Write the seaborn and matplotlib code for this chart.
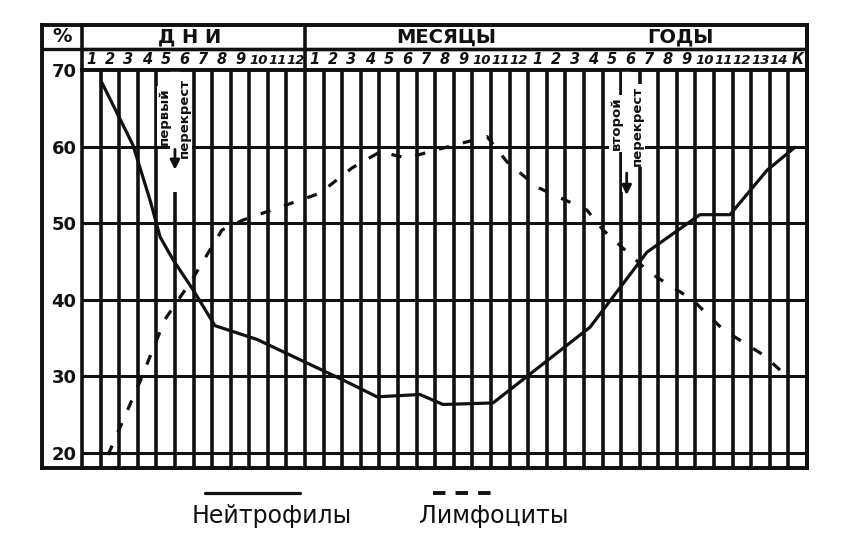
import matplotlib
matplotlib.use("Agg")
import matplotlib.pyplot as plt
from matplotlib.lines import Line2D
import numpy as np
import pandas as pd
import seaborn as sns

# ---- data -------------------------------------------------------------
# x is measured in columns of the time scale (days | months | years)
neut_x = [1.08, 2.74, 3.66, 4.20, 4.90, 5.97, 7.15, 9.41, 14.04, 15.87,
          18.18, 19.42, 22.11, 27.33, 30.39, 33.24, 34.86, 36.85, 38.35]
neut_y = [68.3, 60.2, 53.0, 48.2, 45.2, 41.3, 36.6, 34.8, 29.5, 27.3,
          27.6, 26.3, 26.5, 36.4, 46.2, 51.1, 51.1, 56.9, 59.9]

lymph_x = [1.40, 3.12, 4.46, 5.92, 7.53, 8.66, 11.03, 12.80, 14.52, 16.03,
           17.48, 19.42, 21.79, 22.86, 24.48, 27.16, 28.03, 30.55, 32.83,
           34.48, 36.63, 37.55]
lymph_y = [19.7, 29.3, 37.4, 42.6, 49.1, 50.4, 52.4, 53.9, 57.2, 59.3,
           58.5, 59.8, 61.3, 58.0, 54.7, 51.7, 49.1, 43.5, 40.0,
           36.1, 32.8, 30.8]

day_labels = [str(i) for i in range(1, 13)]
month_labels = [str(i) for i in range(1, 13)]
year_labels = [str(i) for i in range(1, 15)] + ["К"]
section_titles = ["Д Н И", "МЕСЯЦЫ", "ГОДЫ"]
y_ticks = [20, 30, 40, 50, 60, 70]
series_names = ["Нейтрофилы", "Лимфоциты"]

# ---- style ------------------------------------------------------------
sns.set_style("white")
plt.rcParams["font.family"] = ["DejaVu Sans"]

W, H = 864, 544
fig = plt.figure(figsize=(W / 100, H / 100), dpi=100)
fig.patch.set_facecolor("white")


def box(x0, y0, x1, y1):
    """figure rectangle from pixel edges (top-left origin)"""
    return [x0 / W, (H - y1) / H, (x1 - x0) / W, (y1 - y0) / H]


INK = "#111111"
LW_V = 2.6
LW_H = 2.2

n_cols = len(day_labels) + len(month_labels) + len(year_labels)

# outer frame
frame = fig.add_axes(box(42, 25, 807, 468))
frame.set_xlim(0, 1)
frame.set_ylim(0, 1)
frame.set_xticks([])
frame.set_yticks([])
for s in frame.spines.values():
    s.set_linewidth(2.8)
    s.set_color(INK)
frame.axhline((468 - 49) / (468 - 25), xmin=0, xmax=1, color=INK, lw=2.4)

# header (section titles + column numbers)
hdr = fig.add_axes(box(82, 25, 807, 70))
hdr.set_facecolor("none")
hdr.set_xlim(0, n_cols)
hdr.set_ylim(0, 45)
hdr.set_xticks([])
hdr.set_yticks([])
for s in hdr.spines.values():
    s.set_linewidth(2.6)
    s.set_color(INK)
hdr.axhline(21, color=INK, lw=2.4)
hdr.axvline(len(day_labels), color=INK, lw=2.6)

col_labels = day_labels + month_labels + year_labels
for i, lab in enumerate(col_labels):
    hdr.text(i + 0.5, 10, lab, ha="center", va="center",
             fontsize=9.5 if len(lab) > 1 else 10.5, fontweight="bold",
             fontstyle="italic", color=INK)
for xc, t in zip([5.8, 19.6, 32.2], section_titles):
    hdr.text(xc, 33, t, ha="center", va="center", fontsize=14,
             fontweight="bold", color=INK)
fig.text(62 / W, 1 - 37 / H, "%", ha="center", va="center",
         fontsize=14, fontweight="bold", color=INK)

# main grid
ax = fig.add_axes(box(82, 70, 807, 468))
ax.set_facecolor("none")
ax.set_xlim(0, n_cols)
ax.set_ylim(18, 70)
ax.vlines(np.arange(1, n_cols), 18, 70, color=INK, lw=LW_V, zorder=1)
ax.hlines(y_ticks[:-1], 0, n_cols, color=INK, lw=LW_H, zorder=1)
for s in ax.spines.values():
    s.set_linewidth(2.6)
    s.set_color(INK)
ax.set_xticks([])
ax.set_yticks(y_ticks)
ax.set_yticklabels([str(v) for v in y_ticks], fontsize=13,
                   fontweight="bold", color=INK)
ax.tick_params(axis="y", length=0, pad=4)

df = pd.concat([
    pd.DataFrame({"x": neut_x, "y": neut_y, "series": series_names[0]}),
    pd.DataFrame({"x": lymph_x, "y": lymph_y, "series": series_names[1]}),
])
sns.lineplot(data=df, x="x", y="y", hue="series", style="series",
             palette={series_names[0]: INK, series_names[1]: INK},
             dashes={series_names[0]: "", series_names[1]: (3.2, 4.5)},
             estimator=None, sort=False, legend=False, lw=2.3, ax=ax,
             zorder=4)
ax.set_xlabel("")
ax.set_ylabel("")

# crossover notes
notes = [
    (5.0, 4.45, 5.5, "первый", "перекрест", 64.0, 60.0, 56.6),
    (29.3, 28.75, 29.85, "второй", "перекрест", 63.0, 56.9, 53.3),
]
for xa, xt1, xt2, t1, t2, ytxt, ya0, ya1 in notes:
    ax.add_patch(plt.Rectangle((xa - 0.25, 54.0), 0.5, 16, color="white",
                               zorder=2, lw=0))
    ax.text(xt1, ytxt, t1, rotation=90, ha="center", va="center",
            fontsize=9.5, fontweight="bold", color=INK, zorder=3,
            bbox=dict(boxstyle="square,pad=0.1", fc="white", ec="none"))
    ax.text(xt2, ytxt - 0.3, t2, rotation=90, ha="center", va="center",
            fontsize=9.5, fontweight="bold", color=INK, zorder=3,
            bbox=dict(boxstyle="square,pad=0.1", fc="white", ec="none"))
    ax.annotate("", xy=(xa, ya1), xytext=(xa, ya0),
                arrowprops=dict(arrowstyle="-|>", color=INK, lw=2,
                                mutation_scale=14), zorder=3)

# legend drawn under the chart: line sample above each name
fig.add_artist(Line2D([205 / W, 300 / W], [1 - 493 / H] * 2, color=INK,
                      lw=2.3, transform=fig.transFigure))
fig.add_artist(Line2D([433 / W, 492 / W], [1 - 493 / H] * 2, color=INK,
                      lw=2.8, dashes=(3.2, 2.6), transform=fig.transFigure))
fig.text(272 / W, 1 - 516 / H, series_names[0], ha="center", va="center",
         fontsize=17, color=INK)
fig.text(494 / W, 1 - 516 / H, series_names[1], ha="center", va="center",
         fontsize=17, color=INK)

fig.savefig("out.png", dpi=100, facecolor="white")
